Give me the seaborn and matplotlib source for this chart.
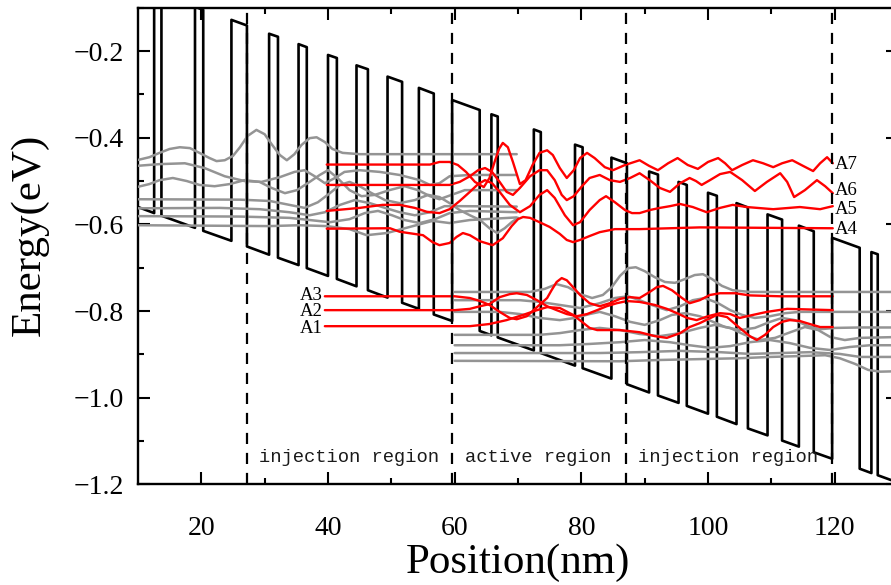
import numpy as np
import pandas as pd
import matplotlib
matplotlib.use("Agg")
import matplotlib.pyplot as plt
import seaborn as sns
from matplotlib.ticker import FixedLocator, FuncFormatter

# ---------------- data ----------------
# conduction band: barrier layers (nm) and band edge at their edges (eV)
barrier_start = [12.55, 19.0, 24.75, 30.7, 35.35, 40.0, 44.5, 49.4, 54.35, 59.6, 65.8,
                 72.5, 79.0, 84.75, 90.7, 95.35, 100.0, 104.5, 109.4, 114.35, 119.6, 125.8]
barrier_end = [13.7, 20.3, 27.2, 32.1, 36.65, 41.4, 46.3, 51.7, 56.7, 63.95, 66.8,
               73.6, 80.2, 87.2, 92.1, 96.65, 101.4, 106.3, 111.7, 116.7, 123.95, 126.8]
band_at_start = [-0.574, -0.608, -0.638, -0.670, -0.694, -0.719, -0.743, -0.769, -0.795, -0.823, -0.856,
                 -0.891, -0.926, -0.956, -0.988, -1.012, -1.037, -1.061, -1.087, -1.113, -1.141, -1.174]
band_at_end = [-0.580, -0.615, -0.651, -0.677, -0.701, -0.726, -0.752, -0.781, -0.808, -0.846, -0.861,
               -0.897, -0.932, -0.969, -0.995, -1.019, -1.044, -1.071, -1.099, -1.126, -1.164, -1.179]
band_left = (10.0, -0.560)
band_right = (130.0, -1.196)
barrier_height = 0.51

region_bounds = [27.2, 59.6, 87.0, 119.5]
region_names = ["injection region", "active region", "injection region"]
region_centers = [43.3, 73.1, 103.1]

# red states A1..A7 (position nm, energy eV)
a7_x = [39.8, 56.1, 57.6, 59.2, 60.5, 61.8, 63.2, 64.6, 65.5, 66.3, 67.0, 67.6, 68.4, 69.2, 70.3, 71.2, 72.3,
        73.4, 74.6, 75.5, 76.6, 77.7, 78.8, 79.8, 80.9, 82.1, 83.7, 85.0, 86.9, 89.2, 90.7, 92.1, 93.7, 95.2,
        96.8, 98.4, 100.0, 101.6, 102.7, 103.8, 105.4, 107.1, 108.7, 110.3, 111.7, 113.3, 115.0, 116.6, 117.7,
        118.8, 119.7]
a7_E = [-0.462, -0.462, -0.456, -0.456, -0.463, -0.479, -0.502, -0.514, -0.493, -0.456, -0.426, -0.412, -0.422,
        -0.456, -0.507, -0.498, -0.463, -0.435, -0.429, -0.440, -0.470, -0.493, -0.475, -0.447, -0.435, -0.447,
        -0.468, -0.475, -0.463, -0.452, -0.465, -0.475, -0.459, -0.447, -0.463, -0.472, -0.456, -0.447, -0.459,
        -0.475, -0.463, -0.452, -0.459, -0.468, -0.459, -0.452, -0.465, -0.477, -0.459, -0.445, -0.459]
a6_x = [39.8, 59.2, 60.8, 62.4, 63.7, 64.8, 65.9, 67.1, 68.2, 69.2, 70.3, 71.9, 73.4, 74.6, 75.8, 76.9, 77.7,
        78.8, 80.1, 81.3, 82.9, 84.5, 86.1, 87.7, 89.2, 90.8, 92.4, 94.0, 95.6, 97.1, 98.1, 99.0, 100.3, 101.9,
        103.5, 105.4, 107.4, 109.3, 111.4, 112.5, 113.6, 115.3, 117.2, 118.5, 119.7]
a6_E = [-0.509, -0.509, -0.502, -0.489, -0.475, -0.470, -0.479, -0.502, -0.525, -0.532, -0.516, -0.489, -0.475,
        -0.475, -0.498, -0.532, -0.544, -0.535, -0.512, -0.493, -0.486, -0.498, -0.502, -0.493, -0.482, -0.498,
        -0.516, -0.525, -0.505, -0.493, -0.500, -0.509, -0.498, -0.484, -0.479, -0.498, -0.523, -0.502, -0.482,
        -0.502, -0.537, -0.521, -0.498, -0.512, -0.528]
a5_x = [39.8, 45.0, 48.6, 51.3, 53.7, 55.6, 57.6, 59.2, 60.8, 62.4, 63.7, 64.8, 65.9, 67.1, 68.7, 70.3, 71.9,
        73.4, 74.6, 75.8, 77.4, 78.7, 79.8, 81.3, 82.9, 83.9, 85.3, 86.9, 88.0, 89.2, 90.8, 92.4, 94.0, 95.6,
        97.6, 99.8, 101.9, 103.9, 106.1, 110.3, 114.5, 117.7, 119.7]
a5_E = [-0.569, -0.562, -0.555, -0.555, -0.562, -0.571, -0.574, -0.565, -0.546, -0.525, -0.507, -0.498, -0.505,
        -0.525, -0.555, -0.572, -0.558, -0.532, -0.521, -0.539, -0.579, -0.602, -0.595, -0.567, -0.544, -0.535,
        -0.549, -0.567, -0.574, -0.574, -0.567, -0.562, -0.558, -0.553, -0.560, -0.572, -0.562, -0.555, -0.560,
        -0.565, -0.560, -0.565, -0.558]
a4_x = [39.8, 49.8, 51.3, 55.0, 56.5, 57.6, 59.2, 60.3, 61.3, 62.4, 64.0, 66.0, 67.6, 69.0, 70.0, 70.8, 71.9,
        73.4, 75.0, 76.6, 77.7, 78.7, 79.8, 81.3, 82.9, 85.3, 89.2, 98.7, 119.7]
a4_E = [-0.610, -0.609, -0.617, -0.625, -0.641, -0.648, -0.643, -0.629, -0.620, -0.625, -0.639, -0.648, -0.632,
        -0.604, -0.588, -0.583, -0.585, -0.595, -0.606, -0.622, -0.636, -0.641, -0.636, -0.627, -0.618, -0.611,
        -0.611, -0.607, -0.609]
a3_x = [39.5, 60.0, 62.4, 64.0, 65.5, 67.1, 68.7, 69.8, 71.4, 73.0, 74.6, 75.3, 76.1, 76.9, 77.7, 78.7, 79.8,
        81.3, 82.9, 84.5, 86.1, 87.7, 89.2, 90.8, 91.9, 92.9, 94.3, 95.9, 97.1, 98.7, 100.3, 101.9, 104.3,
        106.6, 111.4, 119.7]
a3_E = [-0.766, -0.766, -0.770, -0.777, -0.786, -0.802, -0.816, -0.819, -0.812, -0.791, -0.770, -0.752, -0.733,
        -0.724, -0.729, -0.745, -0.763, -0.782, -0.789, -0.782, -0.772, -0.768, -0.770, -0.756, -0.745, -0.742,
        -0.752, -0.770, -0.782, -0.775, -0.763, -0.759, -0.759, -0.764, -0.766, -0.766]
a2_x = [39.5, 60.0, 62.4, 64.0, 65.5, 67.1, 68.7, 69.8, 71.4, 73.0, 74.6, 76.1, 77.7, 79.3, 80.9, 82.5, 84.0,
        85.6, 87.2, 89.2, 91.6, 93.5, 95.1, 96.7, 98.2, 100.0, 101.9, 103.5, 105.0, 107.1, 109.3, 112.5, 119.7]
a2_E = [-0.798, -0.798, -0.795, -0.789, -0.784, -0.768, -0.761, -0.759, -0.763, -0.775, -0.789, -0.798, -0.807,
        -0.812, -0.807, -0.798, -0.789, -0.782, -0.777, -0.779, -0.786, -0.795, -0.805, -0.816, -0.821, -0.812,
        -0.805, -0.807, -0.816, -0.809, -0.802, -0.795, -0.798]
a1_x = [39.5, 62.4, 65.5, 68.2, 70.8, 73.0, 74.6, 76.6, 78.7, 80.1, 81.3, 82.5, 84.0, 86.1, 89.2, 91.6, 93.5,
        95.6, 97.1, 98.7, 101.4, 103.0, 105.0, 106.6, 107.7, 109.0, 110.3, 111.7, 112.9, 114.5, 115.6, 117.7, 119.7]
a1_E = [-0.835, -0.835, -0.830, -0.821, -0.809, -0.798, -0.791, -0.793, -0.809, -0.825, -0.839, -0.844, -0.844,
        -0.844, -0.849, -0.858, -0.862, -0.851, -0.837, -0.828, -0.809, -0.814, -0.839, -0.858, -0.867, -0.855,
        -0.837, -0.825, -0.821, -0.823, -0.828, -0.837, -0.837]

# grey states of neighbouring periods
g1_x = [9.8, 11.8, 13.4, 15.0, 16.6, 18.2, 19.7, 21.3, 22.4, 23.7, 25.0, 26.1, 27.3, 28.7, 30.0, 31.1, 32.4,
        33.5, 34.7, 35.8, 37.1, 38.2, 39.5, 40.7, 42.3, 45.0, 69.8]
g1_E = [-0.452, -0.445, -0.435, -0.426, -0.422, -0.424, -0.435, -0.447, -0.454, -0.452, -0.442, -0.422, -0.396,
        -0.382, -0.392, -0.415, -0.440, -0.452, -0.438, -0.417, -0.401, -0.399, -0.410, -0.426, -0.435, -0.438,
        -0.438]
g2_x = [9.8, 13.4, 17.4, 20.5, 23.7, 26.8, 29.5, 32.4, 34.7, 36.3, 37.9, 39.5, 41.1, 42.6, 45.0, 48.2, 51.3,
        54.5, 56.1, 57.6, 59.2, 62.4, 69.8]
g2_E = [-0.465, -0.461, -0.459, -0.470, -0.489, -0.500, -0.502, -0.491, -0.479, -0.475, -0.489, -0.505, -0.493,
        -0.479, -0.475, -0.479, -0.486, -0.498, -0.509, -0.505, -0.489, -0.486, -0.486]
g3_x = [9.8, 11.8, 13.4, 15.5, 17.7, 19.7, 22.1, 24.5, 26.8, 29.2, 31.1, 33.2, 35.1, 37.1, 38.7, 40.0, 41.5,
        43.4, 45.3, 47.4, 49.7, 52.1, 54.2, 56.1, 57.6, 59.5, 61.6, 69.8]
g3_E = [-0.514, -0.507, -0.498, -0.493, -0.500, -0.509, -0.512, -0.507, -0.498, -0.502, -0.516, -0.528, -0.521,
        -0.502, -0.486, -0.475, -0.493, -0.521, -0.535, -0.532, -0.521, -0.512, -0.521, -0.535, -0.542, -0.532,
        -0.521, -0.521]
g4_x = [9.8, 26.1, 30.8, 33.9, 36.3, 38.4, 40.3, 41.9, 43.4, 45.0, 46.9, 49.0, 51.3, 53.7, 55.8, 57.6, 59.2,
        60.8, 62.4, 64.0, 65.5, 66.7, 67.9, 69.0, 70.0]
g4_E = [-0.542, -0.543, -0.546, -0.555, -0.562, -0.549, -0.528, -0.509, -0.502, -0.512, -0.528, -0.544, -0.551,
        -0.544, -0.532, -0.537, -0.551, -0.567, -0.579, -0.590, -0.609, -0.620, -0.609, -0.595, -0.585]
g5_x = [9.8, 22.9, 29.2, 33.9, 37.1, 39.5, 41.9, 44.2, 46.6, 49.0, 51.3, 53.7, 56.1, 58.4, 60.8, 69.8]
g5_E = [-0.563, -0.562, -0.565, -0.572, -0.579, -0.572, -0.555, -0.544, -0.551, -0.562, -0.572, -0.579, -0.572,
        -0.558, -0.558, -0.559]
g6_x = [9.8, 26.1, 33.9, 37.1, 40.3, 43.4, 45.8, 47.9, 50.1, 52.1, 54.5, 56.9, 59.2, 62.4, 69.8]
g6_E = [-0.581, -0.582, -0.585, -0.590, -0.595, -0.588, -0.574, -0.569, -0.579, -0.590, -0.597, -0.588, -0.574,
        -0.569, -0.572]
g7_x = [9.8, 30.8, 35.5, 39.8, 43.4, 46.1, 49.3, 52.9, 56.5, 59.2, 62.4, 69.8]
g7_E = [-0.602, -0.604, -0.602, -0.604, -0.611, -0.625, -0.620, -0.606, -0.592, -0.597, -0.590, -0.584]

h1_x = [60.0, 68.7, 71.9, 74.2, 76.1, 77.9, 79.8, 81.7, 83.4, 84.8, 86.1, 87.4, 88.6, 90.0, 91.6, 93.2, 94.8,
        96.4, 97.9, 99.2, 100.6, 102.2, 103.9, 106.6, 130.0]
h1_E = [-0.756, -0.756, -0.756, -0.749, -0.738, -0.745, -0.761, -0.770, -0.763, -0.745, -0.719, -0.701, -0.699,
        -0.708, -0.722, -0.733, -0.735, -0.726, -0.717, -0.715, -0.726, -0.742, -0.752, -0.756, -0.756]
h2_x = [60.0, 70.3, 73.4, 76.6, 79.8, 82.9, 85.3, 87.4, 89.2, 91.1, 93.5, 95.6, 97.6, 99.5, 101.6, 103.5, 105.4,
        107.4, 109.8, 112.2, 114.5, 130.0]
h2_E = [-0.775, -0.775, -0.779, -0.786, -0.793, -0.782, -0.770, -0.766, -0.775, -0.786, -0.798, -0.789, -0.775,
        -0.770, -0.782, -0.798, -0.809, -0.816, -0.812, -0.805, -0.802, -0.802]
h3_x = [60.0, 67.1, 70.3, 73.4, 76.6, 79.0, 81.3, 82.9, 85.3, 87.7, 90.0, 92.4, 94.3, 96.4, 98.7, 100.8, 102.7,
        105.0, 107.4, 109.8, 111.7, 113.7, 115.8, 117.7, 120.1, 124.0, 130.0]
h3_E = [-0.802, -0.802, -0.807, -0.816, -0.821, -0.816, -0.807, -0.802, -0.812, -0.825, -0.832, -0.821, -0.809,
        -0.805, -0.812, -0.825, -0.837, -0.844, -0.839, -0.825, -0.816, -0.821, -0.835, -0.842, -0.839, -0.838,
        -0.838]
h4_x = [60.0, 73.4, 76.6, 79.8, 82.9, 86.1, 89.2, 92.4, 95.6, 98.7, 101.1, 103.5, 105.8, 108.2, 110.6, 113.0,
        115.3, 117.4, 119.3, 121.6, 124.0, 130.0]
h4_E = [-0.855, -0.855, -0.851, -0.844, -0.839, -0.844, -0.853, -0.858, -0.851, -0.839, -0.832, -0.839, -0.855,
        -0.867, -0.862, -0.849, -0.837, -0.844, -0.860, -0.867, -0.862, -0.860]
h5_x = [60.0, 76.6, 81.3, 86.1, 90.0, 94.0, 97.1, 100.3, 103.5, 106.6, 109.8, 112.9, 116.1, 119.3, 122.4, 125.6,
        130.0]
h5_E = [-0.879, -0.879, -0.876, -0.872, -0.867, -0.872, -0.879, -0.885, -0.881, -0.872, -0.867, -0.874, -0.885,
        -0.890, -0.883, -0.879, -0.879]
h6_x = [60.0, 82.9, 89.2, 95.6, 101.9, 106.6, 111.4, 116.1, 120.8, 124.0, 130.0]
h6_E = [-0.897, -0.897, -0.895, -0.892, -0.895, -0.899, -0.897, -0.895, -0.899, -0.906, -0.906]
h7_x = [60.0, 86.1, 92.4, 98.7, 105.0, 109.8, 114.5, 118.5, 120.8, 123.2, 125.3, 127.2, 130.0]
h7_E = [-0.915, -0.916, -0.913, -0.911, -0.909, -0.906, -0.904, -0.902, -0.909, -0.922, -0.936, -0.940, -0.939]

left_labels = ["A3", "A2", "A1"]
left_label_E = [-0.765, -0.802, -0.840]
right_labels = ["A7", "A6", "A5", "A4"]
right_label_E = [-0.461, -0.523, -0.565, -0.613]

# ---------------- build tables ----------------
bx = [band_left[0]]
bE = [band_left[1]]
for s, e, es, ee in zip(barrier_start, barrier_end, band_at_start, band_at_end):
    bx += [s, s, e, e]
    bE += [es, es + barrier_height, ee + barrier_height, ee]
bx.append(band_right[0])
bE.append(band_right[1])
band_df = pd.DataFrame({"x": bx, "E": bE})

def long_table(curves):
    rows = []
    for name, (xs, es) in curves.items():
        for i, (xv, ev) in enumerate(zip(xs, es)):
            rows.append((name, i, xv, ev))
    return pd.DataFrame(rows, columns=["state", "order", "x", "E"])

red_df = long_table({"A7": (a7_x, a7_E), "A6": (a6_x, a6_E), "A5": (a5_x, a5_E), "A4": (a4_x, a4_E),
                     "A3": (a3_x, a3_E), "A2": (a2_x, a2_E), "A1": (a1_x, a1_E)})
grey_df = long_table({"g1": (g1_x, g1_E), "g2": (g2_x, g2_E), "g3": (g3_x, g3_E), "g4": (g4_x, g4_E),
                      "g5": (g5_x, g5_E), "g6": (g6_x, g6_E), "g7": (g7_x, g7_E),
                      "h1": (h1_x, h1_E), "h2": (h2_x, h2_E), "h3": (h3_x, h3_E), "h4": (h4_x, h4_E),
                      "h5": (h5_x, h5_E), "h6": (h6_x, h6_E), "h7": (h7_x, h7_E)})

# ---------------- plot ----------------
sns.set_theme(style="ticks")
plt.rcParams["font.family"] = ["Liberation Serif", "DejaVu Serif"]
plt.rcParams["axes.unicode_minus"] = True
for key in ["text.color", "axes.labelcolor", "xtick.color", "ytick.color", "axes.edgecolor"]:
    plt.rcParams[key] = "black"

fig = plt.figure(figsize=(8.91, 5.85), dpi=100)
ax = fig.add_axes([138 / 891, 0.1721, 760 / 891, 0.8147])

sns.lineplot(data=band_df, x="x", y="E", sort=False, estimator=None, color="black",
             linewidth=1.9, ax=ax, zorder=2)
sns.lineplot(data=grey_df, x="x", y="E", units="state", sort=False, estimator=None,
             color="#949494", linewidth=1.8, ax=ax, zorder=3)
sns.lineplot(data=red_df, x="x", y="E", units="state", sort=False, estimator=None,
             color="#ff0000", linewidth=1.7, ax=ax, zorder=4)

for xb in region_bounds:
    ax.axvline(xb, color="black", linewidth=1.6, linestyle=(0, (5, 4)), zorder=5)

for name, xc in zip(region_names, region_centers):
    ax.text(xc, -1.138, name, ha="center", va="center", fontsize=13.5,
            family=["Liberation Mono", "DejaVu Sans Mono"], color="#1a1a1a")

for lab, ev in zip(left_labels, left_label_E):
    ax.text(39.2, ev, lab, ha="right", va="center", fontsize=13.5, color="black")
for lab, ev in zip(right_labels, right_label_E):
    ax.text(120.05, ev, lab, ha="left", va="center", fontsize=13.5, color="black")

ax.set_xlim(10, 130)
ax.set_ylim(-1.2, -0.1)
ax.xaxis.set_major_locator(FixedLocator([20, 40, 60, 80, 100, 120]))
ax.xaxis.set_minor_locator(FixedLocator([30, 50, 70, 90, 110, 130]))
ax.yaxis.set_major_locator(FixedLocator([-1.2, -1.0, -0.8, -0.6, -0.4, -0.2]))
ax.yaxis.set_minor_locator(FixedLocator([-1.1, -0.9, -0.7, -0.5, -0.3, -0.1]))
ax.xaxis.set_major_formatter(FuncFormatter(lambda v, p: f"{v:.0f}"))
ax.yaxis.set_major_formatter(FuncFormatter(lambda v, p: f"{v:.1f}".replace("-", "\u2212")))
ax.tick_params(which="both", direction="in", top=True, right=True, width=1.5, colors="black")
ax.tick_params(which="major", length=8.5)
ax.tick_params(which="minor", length=4)
ax.tick_params(axis="x", which="major", pad=23, labelsize=20)
ax.tick_params(axis="y", which="major", pad=10, labelsize=20)
for sp in ax.spines.values():
    sp.set_linewidth(1.7)
    sp.set_color("black")
ax.set_xlabel("")
ax.set_ylabel("")

fig.text(518 / 891, 1 - 563 / 585, "Position(nm)", ha="center", va="center", fontsize=31, color="black")
fig.text(30 / 891, 1 - 235 / 585, "Energy(eV)", ha="center", va="center", fontsize=31, rotation=90,
         color="black")

fig.savefig("out.png", dpi=100)
